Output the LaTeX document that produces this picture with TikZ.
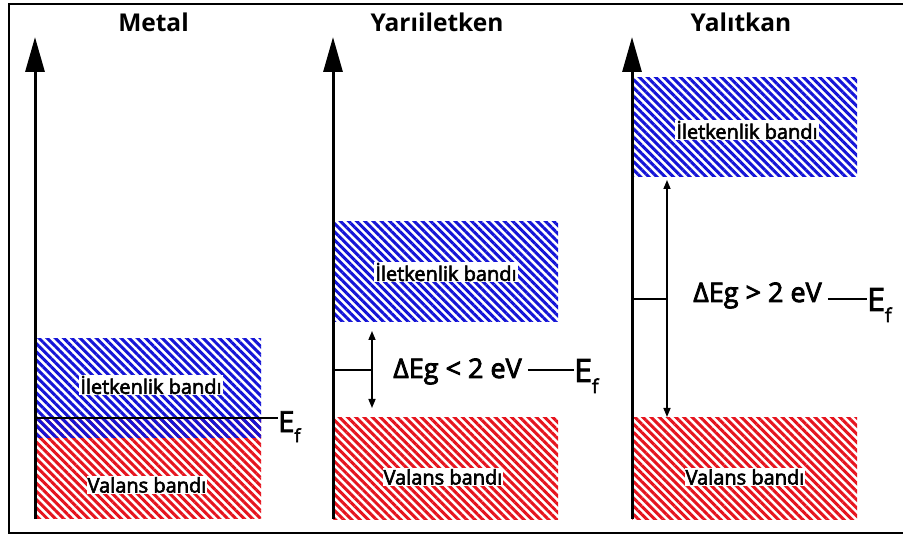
\documentclass[tikz,border=0pt]{standalone}
\usepackage{fontspec}
\setmainfont{Open Sans}
\newfontfamily\semib[FakeBold=3]{Open Sans}
\usetikzlibrary{patterns.meta,arrows.meta}
\definecolor{hblue}{RGB}{20,20,215}
\definecolor{hred}{RGB}{230,20,30}
\begin{document}
\begin{tikzpicture}[x=1pt,y=-1pt,
  bluehatch/.style={pattern={Lines[angle=-45,distance=5.8pt,line width=3pt]},pattern color=hblue},
  redhatch/.style={pattern={Lines[angle=-45,distance=5.8pt,line width=3pt]},pattern color=hred},
  bandlabel/.style={fill=white,inner sep=1pt,font=\semib\fontsize{20}{20}\selectfont},
  title/.style={font=\fontsize{24.5}{24.5}\selectfont\bfseries,anchor=base},
  axisarrow/.style={line width=3pt,-{Triangle[width=19pt,length=35pt]}},
  gaparrow/.style={line width=1.5pt,{Triangle[width=7pt,length=9pt]}-{Triangle[width=7pt,length=9pt]}},
  thin line/.style={line width=1.5pt},
  gaptext/.style={font=\semib\fontsize{27}{27}\selectfont,anchor=base,inner sep=0pt},
  eflabel/.style={anchor=base west,inner sep=0pt}
]
\useasboundingbox (0,0) rectangle (903,537);
\fill[white] (0,0) rectangle (903,537);
\draw[line width=2pt] (9,4) rectangle (910,533);

% ---------- Metal ----------
\fill[redhatch] (35,418) rectangle (261,518);
\fill[bluehatch] (35,339) rectangle (261,438);
\node[bandlabel] (m1) at (151,385) {İletkenlik bandı};
\node[bandlabel] (m2) at (147,485) {Valans bandı};
\coordinate (mbot) at (35,519);
\coordinate (mtop) at (35,37);
\coordinate (mef) at (35,418);
\node[eflabel,font=\semib\fontsize{29}{29}\selectfont] (mE) at (278,432) {E\raisebox{-10pt}{\fontsize{18}{18}\selectfont f}};
\draw[line width=2pt] (mef) -- (mE.base west |- mef);
\draw[axisarrow] (mbot) -- (mtop);
\node[title] (t1) at (153.5,32) {Metal};

% ---------- Yarıiletken ----------
\fill[bluehatch] (333,222) rectangle (558,322);
\fill[redhatch] (333,418) rectangle (558,519);
\node[bandlabel] (s1) at (446,272) {İletkenlik bandı};
\node[bandlabel] (s2) at (443,477) {Valans bandı};
\coordinate (sbot) at (333,519);
\coordinate (stop) at (333,37);
\coordinate (sa1) at (372,331);
\coordinate (sa2) at (372,408);
\coordinate (stick) at (333,370);
\draw[gaparrow] (sa1) -- (sa2);
\draw[thin line] (stick) -- (sa1 |- stick);
\node[gaptext] (sg) at (457.5,378) {ΔEg < 2 eV};
\node[eflabel,font=\semib\fontsize{32}{32}\selectfont] (sE) at (574,382) {E\raisebox{-11pt}{\fontsize{19}{19}\selectfont f}};
\draw[thin line] (sg.base east |- stick) ++(6,0) -- (sE.base west |- stick);
\draw[axisarrow] (sbot) -- (stop);
\node[title] (t2) at (437,32) {Yarıiletken};

% ---------- Yalıtkan ----------
\fill[bluehatch] (632,78) rectangle (857,177);
\fill[redhatch] (632,418) rectangle (857,519);
\node[bandlabel] (i1) at (747,130) {İletkenlik bandı};
\node[bandlabel] (i2) at (745,477) {Valans bandı};
\coordinate (ibot) at (632,519);
\coordinate (itop) at (632,37);
\coordinate (ia1) at (667,180);
\coordinate (ia2) at (667,417);
\coordinate (itick) at (632,299);
\draw[gaparrow] (ia1) -- (ia2);
\draw[thin line] (itick) -- (ia1 |- itick);
\node[gaptext] (ig) at (757.5,302) {ΔEg > 2 eV};
\node[eflabel,font=\semib\fontsize{32}{32}\selectfont] (iE) at (867,311) {E\raisebox{-11pt}{\fontsize{19}{19}\selectfont f}};
\draw[thin line] (ig.base east |- itick) ++(6,0) -- (iE.base west |- itick);
\draw[axisarrow] (ibot) -- (itop);
\node[title] (t3) at (741,32) {Yalıtkan};
\end{tikzpicture}
\end{document}
